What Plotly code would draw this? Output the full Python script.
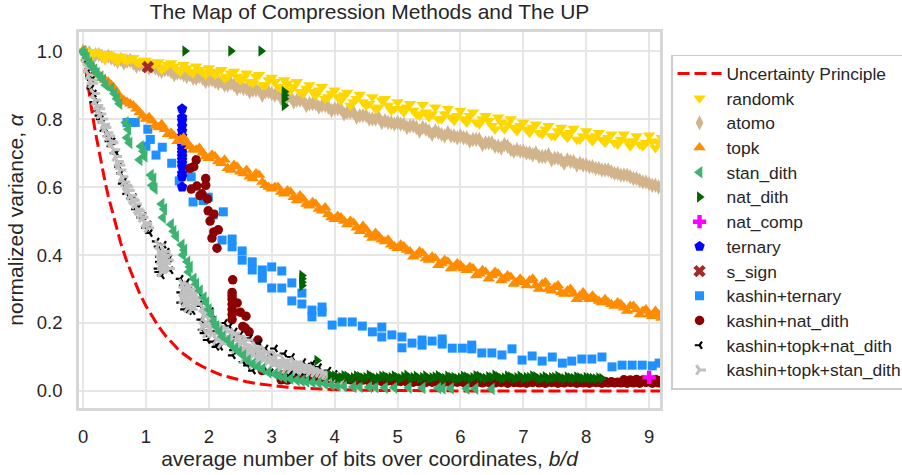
import plotly.graph_objects as go

GRID = [0.0,0.1,0.2,0.3,0.4,0.5,0.6,0.7,0.8,0.9,
        1.0,1.1,1.2,1.3,1.4,1.5,1.6,1.7,1.8,1.9,
        2.0,2.1,2.2,2.3,2.4,2.5,2.6,2.7,2.8,2.9,
        3.0,3.1,3.2,3.3,3.4,3.5,3.6,3.7,3.8,3.9,
        4.0,4.1,4.2,4.3,4.4,4.5,4.6,4.7,4.8,4.9,
        5.0,5.1,5.2,5.3,5.4,5.5,5.6,5.7,5.8,5.9,
        6.0,6.1,6.2,6.3,6.4,6.5,6.6,6.7,6.8,6.9,
        7.0,7.1,7.2,7.3,7.4,7.5,7.6,7.7,7.8,7.9,
        8.0,8.1,8.2,8.3,8.4,8.5,8.6,8.7,8.8,8.9,
        9.0,9.1,9.2]
GRID_B = [0.05,0.15,0.25,0.35,0.45,0.55,0.65,0.75,0.85,0.95,
          1.05,1.15,1.25,1.35,1.45,1.55,1.65,1.75,1.85,1.95,
          2.05,2.15,2.25,2.35,2.45,2.55,2.65,2.75,2.85,2.95,
          3.05,3.15,3.25,3.35,3.45,3.55,3.65,3.75,3.85,3.95,
          4.05,4.15,4.25,4.35,4.45,4.55,4.65,4.75,4.85,4.95,
          5.05,5.15,5.25,5.35,5.45,5.55,5.65,5.75,5.85,5.95,
          6.05,6.15,6.25,6.35,6.45,6.55,6.65,6.75,6.85,6.95,
          7.05,7.15,7.25,7.35,7.45,7.55,7.65,7.75,7.85,7.95,
          8.05,8.15,8.25,8.35,8.45,8.55,8.65,8.75,8.85,8.95,
          9.05,9.15]

up_x = [0,0.05,0.1,0.15,0.2,0.25,0.3,0.35,0.4,0.5,0.6,0.7,0.8,0.9,1.0,1.1,1.2,1.3,1.4,1.5,1.6,1.7,1.8,1.9,2.0,
        2.2,2.4,2.6,2.8,3.0,3.25,3.5,3.75,4.0,4.5,5.0,5.5,6.0,7.0,8.0,9.0,9.3]
up_y = [1.0,0.933,0.871,0.812,0.758,0.707,0.66,0.616,0.574,0.5,0.435,0.379,0.33,0.287,0.25,0.218,0.19,0.165,0.144,
        0.125,0.109,0.095,0.082,0.072,0.0625,0.047,0.036,0.027,0.021,0.016,0.011,0.008,0.0055,0.004,0.002,0.001,0.0005,0.0002,0.0,0.0,0.0,0.0]

randomk_a = [1.0,0.995,0.998,0.985,0.99,0.978,0.985,0.972,0.98,0.965,
             0.972,0.958,0.968,0.952,0.965,0.946,0.96,0.94,0.955,0.938,
             0.95,0.93,0.945,0.925,0.94,0.915,0.935,0.905,0.93,0.9,
             0.922,0.895,0.915,0.885,0.91,0.875,0.9,0.87,0.895,0.865,
             0.885,0.855,0.878,0.85,0.872,0.84,0.865,0.835,0.86,0.825,
             0.85,0.82,0.845,0.815,0.842,0.805,0.835,0.8,0.83,0.795,
             0.825,0.79,0.82,0.785,0.81,0.78,0.805,0.77,0.8,0.765,
             0.79,0.76,0.785,0.755,0.78,0.75,0.775,0.745,0.772,0.74,
             0.765,0.735,0.76,0.73,0.755,0.725,0.755,0.72,0.75,0.72,
             0.752,0.715,0.745]
randomk_b = [0.998,0.99,0.992,0.975,0.985,0.97,0.975,0.975,0.968,0.97,
             0.96,0.965,0.945,0.96,0.955,0.94,0.95,0.935,0.945,0.93,
             0.938,0.94,0.92,0.935,0.925,0.92,0.91,0.925,0.9,0.915,
             0.91,0.89,0.905,0.895,0.88,0.89,0.88,0.885,0.86,0.875,
             0.865,0.87,0.84,0.86,0.85,0.845,0.83,0.855,0.84,0.83,
             0.83,0.835,0.825,0.81,0.82,0.815,0.8,0.815,0.805,0.81,
             0.8,0.81,0.79,0.8,0.795,0.77,0.79,0.785,0.775,0.78,
             0.77,0.775,0.76,0.77,0.75,0.765,0.755,0.76,0.74,0.75,
             0.745,0.75,0.74,0.745,0.73,0.74,0.735,0.735,0.725,0.73,
             0.735,0.73]
atomo_a = [1.0,0.995,0.99,0.985,0.985,0.975,0.975,0.97,0.965,0.96,
           0.955,0.955,0.945,0.945,0.94,0.935,0.93,0.93,0.92,0.92,
           0.915,0.91,0.91,0.9,0.9,0.895,0.89,0.885,0.885,0.88,
           0.875,0.875,0.865,0.865,0.855,0.855,0.845,0.845,0.84,0.835,
           0.83,0.83,0.82,0.82,0.81,0.81,0.8,0.805,0.795,0.79,
           0.79,0.785,0.78,0.775,0.775,0.765,0.765,0.755,0.76,0.75,
           0.75,0.745,0.74,0.74,0.73,0.73,0.72,0.725,0.71,0.71,
           0.705,0.7,0.7,0.69,0.695,0.685,0.68,0.68,0.675,0.67,
           0.665,0.66,0.655,0.65,0.645,0.64,0.635,0.63,0.625,0.615,
           0.61,0.605,0.595]
atomo_b = [0.995,0.985,0.99,0.98,0.98,0.97,0.965,0.972,0.955,0.96,
           0.95,0.95,0.94,0.945,0.93,0.935,0.925,0.92,0.925,0.91,
           0.915,0.905,0.9,0.905,0.89,0.89,0.88,0.885,0.87,0.88,
           0.87,0.86,0.865,0.85,0.855,0.84,0.845,0.835,0.84,0.825,
           0.83,0.815,0.82,0.805,0.81,0.8,0.8,0.79,0.79,0.785,
           0.785,0.775,0.78,0.765,0.77,0.755,0.76,0.75,0.75,0.745,
           0.745,0.735,0.74,0.725,0.73,0.72,0.715,0.72,0.705,0.705,
           0.7,0.695,0.69,0.69,0.68,0.685,0.67,0.675,0.665,0.665,
           0.66,0.655,0.65,0.65,0.64,0.635,0.635,0.625,0.62,0.615,
           0.605,0.6]
topk_a = [1.0,0.965,0.94,0.92,0.91,0.89,0.86,0.85,0.84,0.82,
          0.8,0.795,0.775,0.77,0.76,0.735,0.745,0.72,0.71,0.7,
          0.685,0.69,0.67,0.655,0.665,0.645,0.65,0.625,0.635,0.605,
          0.595,0.6,0.58,0.585,0.56,0.565,0.545,0.55,0.53,0.52,
          0.505,0.51,0.49,0.495,0.47,0.475,0.45,0.455,0.44,0.43,
          0.42,0.425,0.41,0.4,0.405,0.385,0.39,0.375,0.38,0.365,
          0.37,0.355,0.36,0.345,0.35,0.34,0.345,0.33,0.335,0.32,
          0.32,0.325,0.31,0.315,0.3,0.305,0.29,0.295,0.285,0.28,
          0.275,0.28,0.265,0.27,0.255,0.26,0.245,0.25,0.24,0.235,
          0.225,0.235,0.215]
topk_b = [0.98,0.955,0.93,0.915,0.9,0.875,0.855,0.845,0.83,0.81,
          0.805,0.78,0.785,0.755,0.75,0.74,0.73,0.71,0.715,0.69,
          0.695,0.675,0.68,0.65,0.66,0.64,0.63,0.64,0.615,0.6,
          0.6,0.585,0.59,0.57,0.575,0.55,0.555,0.535,0.54,0.51,
          0.515,0.5,0.5,0.48,0.485,0.46,0.465,0.445,0.445,0.425,
          0.43,0.415,0.395,0.41,0.39,0.395,0.37,0.385,0.36,0.375,
          0.36,0.365,0.34,0.355,0.33,0.35,0.325,0.34,0.315,0.33,
          0.31,0.33,0.3,0.32,0.295,0.31,0.285,0.3,0.27,0.29,
          0.27,0.27,0.26,0.26,0.25,0.255,0.235,0.25,0.225,0.24,
          0.22,0.225]

stan_x = [0.0,0.03,0.06,0.1,0.14,0.18,0.22,0.28,0.32,0.36,0.45,0.5,0.54,0.58,0.68,0.72,0.7,0.74,0.92,0.96,0.9,0.98,
          1.08,1.12,1.1,1.14,1.25,1.29,1.27,1.4,1.44,1.48,1.57,1.61,1.59,1.66,1.7,1.68,1.76,1.8,1.86,1.92,1.96,
          2.0,2.04,2.08,2.12,2.17,2.22,2.3,2.36,2.42,2.48,2.55,2.62,2.7,2.78,2.85,2.95,3.05,3.12,3.2,3.3,3.4,3.48,3.55,3.65,3.75,3.85,3.95,4.05,4.15,
          4.3,4.4,4.55,4.65,4.8,4.95,5.18,5.4,5.65,5.72,5.85,6.1,6.24,6.5]
stan_y = [1.0,0.99,0.98,0.965,0.955,0.945,0.935,0.925,0.915,0.9,0.89,0.875,0.86,0.845,0.79,0.77,0.745,0.73,0.72,0.705,
          0.68,0.69,0.635,0.625,0.605,0.595,0.55,0.535,0.51,0.49,0.47,0.455,0.43,0.415,0.4,0.38,0.365,0.35,0.33,0.315,
          0.295,0.275,0.26,0.24,0.225,0.205,0.19,0.175,0.16,0.15,0.135,0.125,0.115,0.105,0.09,0.08,0.072,0.065,0.055,0.05,0.045,0.04,0.036,0.032,
          0.03,0.028,0.026,0.024,0.021,0.018,0.016,0.014,0.012,0.012,0.012,0.011,0.01,0.01,0.01,0.009,0.009,0.008,0.008,0.007,0.007,0.006]

nat_x = [1.62,2.35,2.83,3.2,3.2,3.2,3.2,3.48,3.48,3.48,3.48,3.72,3.93,
         4.0,4.05,4.1,4.15,4.2,4.25,4.3,4.35,4.4,4.45,4.5,4.55,4.6,4.65,4.7,4.75,4.8,4.85,4.9,4.95,5.0,5.05,5.1,5.15,5.2,5.25,5.3,5.35,5.4,5.45,5.5,5.55,5.6,5.65,5.7,5.75,5.8,5.85,5.9,5.95,
         6.0,6.05,6.1,6.15,6.2,6.25,6.3,6.35,6.4,6.45,6.5,6.55,6.6,6.65,6.7,6.75,6.8,6.85,6.9,6.95,7.0,7.05,7.1,7.15,7.2,7.25,7.3,7.35,7.4,7.45,7.5,7.55,7.6,7.65,7.7,7.75,7.8,7.85,7.9,7.95,8.0,8.05,8.1,8.15,8.2,8.25]
nat_y = [1.0,1.0,1.0,0.88,0.87,0.86,0.84,0.34,0.33,0.32,0.31,0.09,0.047,
         0.044,0.039,0.04,0.045,0.043,0.037,0.039,0.044,0.042,0.038,0.04,0.046,0.041,0.037,0.038,0.043,0.043,0.039,0.04,0.044,0.039,0.037,0.042,0.046,0.038,0.04,0.043,0.037,0.04,0.044,0.037,0.039,0.041,0.045,0.039,0.037,0.043,0.04,0.04,0.036,
         0.038,0.043,0.041,0.037,0.039,0.045,0.043,0.038,0.037,0.042,0.04,0.046,0.042,0.037,0.038,0.044,0.041,0.037,0.039,0.043,0.037,0.04,0.04,0.044,0.042,0.036,0.038,0.042,0.036,0.039,0.04,0.043,0.038,0.036,0.041,0.038,0.037,0.041,0.039,0.036,0.04,0.038,0.037,0.035,0.038,0.037]

comp_x = [9.0]
comp_y = [0.04]

ternary_x = [1.575,1.575,1.575,1.575,1.575,1.575,1.575,1.575,1.575,1.575,1.575,1.575,1.575,1.575,1.575,1.575,1.575,1.575]
ternary_y = [0.83,0.805,0.795,0.78,0.765,0.75,0.74,0.73,0.72,0.71,0.7,0.69,0.68,0.67,0.66,0.64,0.63,0.6]

sign_x = [1.03]
sign_y = [0.953]

kt_x = [0.7,0.83,1.03,1.07,1.0,1.26,1.16,1.41,1.72,1.53,1.99,1.75,1.91,2.23,2.07,2.21,2.37,2.37,2.53,2.53,2.69,2.69,
        2.85,2.85,3.0,3.16,3.32,3.0,3.16,3.48,3.32,3.48,3.64,3.64,3.8,3.8,3.96,4.12,4.28,4.44,4.6,4.75,4.75,4.91,
        5.07,5.07,5.23,5.39,5.39,5.55,5.71,5.71,5.87,6.03,6.18,6.18,6.34,6.5,6.66,6.82,6.98,7.14,7.3,7.46,7.62,7.77,
        7.93,8.09,8.25,8.41,8.57,8.73,8.89,9.05,9.16]
kt_y = [0.79,0.79,0.77,0.74,0.72,0.717,0.694,0.67,0.63,0.618,0.57,0.556,0.56,0.527,0.518,0.444,0.447,0.424,0.412,0.385,
        0.38,0.356,0.356,0.332,0.365,0.353,0.318,0.303,0.303,0.288,0.265,0.256,0.238,0.218,0.247,0.232,0.194,0.203,0.203,
        0.191,0.174,0.188,0.159,0.165,0.159,0.127,0.141,0.15,0.135,0.147,0.153,0.138,0.126,0.126,0.135,0.124,0.112,0.112,
        0.106,0.124,0.091,0.103,0.088,0.1,0.082,0.088,0.094,0.094,0.1,0.071,0.076,0.076,0.076,0.074,0.082]

knd_x = [1.8,1.76,1.7,1.95,1.95,1.81,1.72,1.89,1.86,1.98,1.99,2.08,2.02,2.15,2.08,2.05,2.13,
         2.38,2.37,2.37,2.37,2.37,2.37,2.37,2.37,2.45,2.5,2.59,2.54,2.58,2.64,2.78,2.85,3.0,3.2,
         3.1,3.2,3.3,3.4,3.5,3.6,3.7,3.8,3.9,4.0,4.1,4.2,4.3,4.4,4.5,4.6,4.7,4.8,4.9,5.0,5.1,5.2,5.3,5.4,5.5,5.6,5.7,5.8,5.9,
         6.0,6.1,6.2,6.3,6.4,6.5,6.6,6.7,6.8,6.9,7.0,7.1,7.2,7.3,7.4,7.5,7.6,7.7,7.8,7.9,8.0,8.1,8.2,8.3,8.4,8.5,8.6,8.7,8.8,8.9,9.0,9.1,9.2,
         3.15,3.25,3.35,3.45,3.55,3.65,3.75,3.85,3.95,4.05,4.15,4.25,4.35,4.45,4.55,4.65,4.75,4.85,4.95,5.05,5.15,5.25,5.35,5.45,5.55,5.65,5.75,5.85,5.95,
         6.05,6.15,6.25,6.35,6.45,6.55,6.65,6.75,6.85,6.95,7.05,7.15,7.25,7.35,7.45,7.55,7.65,7.75,7.85,7.95,8.05,8.15,8.25,8.35,8.45,8.55,8.65,8.75,8.85,8.95,9.05,9.15]
knd_y = [0.68,0.66,0.655,0.625,0.605,0.603,0.594,0.58,0.575,0.565,0.53,0.52,0.5,0.474,0.468,0.45,0.42,
         0.327,0.29,0.28,0.27,0.255,0.24,0.225,0.21,0.259,0.232,0.22,0.19,0.185,0.174,0.15,0.06,0.1,0.04,
         0.05,0.048,0.047,0.045,0.044,0.044,0.043,0.042,0.04,0.04,0.038,0.037,0.036,0.036,0.034,0.035,0.033,0.032,0.033,0.031,0.032,0.03,0.031,
         0.03,0.03,0.029,0.03,0.028,0.029,0.03,0.028,0.029,0.027,0.029,0.028,0.027,0.029,0.028,0.026,0.028,0.027,0.029,0.026,0.028,0.027,0.026,0.028,
         0.027,0.026,0.028,0.027,0.026,0.028,0.027,0.026,0.033,0.032,0.034,0.032,0.033,0.034,0.032,0.033,0.032,
         0.042,0.04,0.04,0.039,0.038,0.037,0.035,0.035,0.034,0.033,0.031,0.032,0.03,0.03,0.028,0.03,0.027,0.028,0.027,0.026,0.027,0.025,0.026,0.025,0.026,0.024,0.026,0.025,0.024,
         0.026,0.024,0.025,0.024,0.025,0.023,0.025,0.024,0.023,0.025,0.024,0.023,0.025,0.023,0.024,0.025,0.023,0.024,0.023,0.025,0.023,0.024,0.024,0.024,0.023,0.024,0.023,0.025,0.023,0.024,0.023,0.024]

ktn_x = [0.05,0.08,0.11,0.14,0.13,0.17,0.18,0.21,0.24,0.26,0.28,0.31,0.34,0.36,0.39,0.42,0.45,0.47,0.5,0.53,0.57,0.6,0.63,0.66,0.7,0.76,0.81,0.84,0.88,0.92,0.96,1.0,1.04,1.06,
         1.17,1.2,1.22,1.2,1.21,1.25,1.33,1.37,1.39,1.28,1.22,
         1.55,1.56,1.56,1.6,1.65,1.7,1.78,1.84,1.85,1.62,1.68,1.74,
         1.87,1.88,1.9,1.93,1.98,2.03,2.06,1.95,
         2.06,2.08,2.08,2.15,2.25,2.33,2.41,2.18,2.12,
         2.42,2.4,2.38,2.5,2.55,2.65,2.62,2.7,2.8,2.85,2.72,2.9,2.98,3.05,3.0,3.12,3.2,3.25,3.32,3.28,3.4,3.5,3.55,3.65,3.3,3.6,3.75,3.9,4.0]
ktn_y = [0.97,0.94,0.925,0.915,0.89,0.875,0.85,0.845,0.825,0.81,0.8,0.79,0.765,0.77,0.75,0.735,0.72,0.735,0.7,0.7,0.66,0.64,0.61,0.62,0.58,0.565,0.57,0.535,0.54,0.51,0.515,0.48,0.49,0.465,
         0.44,0.425,0.395,0.36,0.35,0.34,0.41,0.39,0.355,0.43,0.38,
         0.33,0.29,0.26,0.31,0.32,0.3,0.3,0.29,0.255,0.24,0.235,0.235,
         0.25,0.21,0.18,0.17,0.15,0.235,0.195,0.24,
         0.21,0.175,0.145,0.135,0.2,0.19,0.175,0.13,0.13,
         0.16,0.12,0.105,0.165,0.085,0.155,0.075,0.06,0.14,0.065,0.12,0.125,0.055,0.125,0.105,0.05,0.11,0.045,0.1,0.06,0.05,0.085,0.05,0.08,0.05,0.075,0.07,0.06,0.05]

ktsd_x = [0.03,0.06,0.09,0.12,0.14,0.17,0.19,0.22,0.25,0.27,0.3,0.33,0.35,0.38,0.41,0.44,0.46,0.49,0.52,0.55,0.57,0.59,0.62,0.65,0.68,0.7,0.72,0.75,0.78,0.8,0.83,0.86,0.88,0.91,0.94,0.98,1.0,1.03,
          1.2,1.22,1.24,1.22,1.25,1.28,1.3,1.32,1.27,1.34,1.36,1.24,1.29,1.26,1.31,
          1.58,1.6,1.58,1.62,1.65,1.68,1.7,1.66,1.74,1.76,1.8,1.72,1.82,1.62,1.64,1.7,1.76,1.6,1.68,1.78,
          1.9,1.93,1.95,1.9,1.98,2.0,1.96,2.03,2.05,1.94,2.01,
          2.1,2.13,2.17,2.12,2.22,2.25,2.3,2.2,2.35,2.4,2.16,2.28,2.33,
          2.45,2.5,2.55,2.42,2.6,2.65,2.7,2.55,2.75,2.8,2.85,2.7,2.9,2.95,3.0,3.05,3.1,3.15,3.2,3.25,3.3,3.35,3.4,3.45,3.5,3.55,3.6,3.65,3.7,3.8,3.9,4.0,
          2.48,2.52,2.58,2.63,2.68,2.72,2.78,2.83,2.88,2.92,2.98,3.02,3.08,3.12,3.18,3.22,3.28,3.32,3.38,3.42,3.48,3.52,3.58,3.62,3.68,3.75,3.85,3.95,4.05,4.15]
ktsd_y = [0.98,0.95,0.93,0.915,0.905,0.875,0.855,0.84,0.83,0.815,0.8,0.785,0.775,0.76,0.75,0.735,0.73,0.71,0.69,0.675,0.665,0.65,0.63,0.615,0.605,0.6,0.59,0.575,0.565,0.56,0.55,0.535,0.53,0.52,0.51,0.495,0.49,0.48,
          0.43,0.41,0.4,0.385,0.37,0.395,0.375,0.36,0.355,0.385,0.36,0.35,0.41,0.38,0.4,
          0.315,0.295,0.27,0.26,0.31,0.285,0.265,0.245,0.29,0.26,0.255,0.24,0.275,0.3,0.28,0.3,0.275,0.28,0.26,0.27,
          0.245,0.22,0.2,0.19,0.235,0.21,0.17,0.19,0.17,0.23,0.185,
          0.2,0.175,0.165,0.15,0.185,0.16,0.15,0.14,0.165,0.17,0.19,0.175,0.15,
          0.16,0.14,0.12,0.125,0.15,0.125,0.105,0.095,0.13,0.105,0.09,0.08,0.115,0.09,0.075,0.105,0.085,0.07,0.09,0.075,0.065,0.085,0.07,0.065,0.075,0.065,0.055,0.065,0.06,0.05,0.045,0.04,
          0.15,0.125,0.135,0.105,0.115,0.12,0.09,0.115,0.1,0.085,0.1,0.08,0.09,0.075,0.08,0.065,0.08,0.07,0.06,0.075,0.06,0.07,0.065,0.06,0.055,0.055,0.048,0.044,0.04,0.038]

x_ticks = [0,1,2,3,4,5,6,7,8,9]
y_ticks = [0.0,0.2,0.4,0.6,0.8,1.0]
y_labels = ["0.0","0.2","0.4","0.6","0.8","1.0"]

# (name, x, y, symbol, colour, size, legend position) in drawing order
series = [
    ("atomo", GRID + GRID_B, atomo_a + atomo_b, "diamond-tall", "#D2B48C", 11, 3),
    ("randomk", GRID + GRID_B, randomk_a + randomk_b, "triangle-down", "#FFD700", 11, 2),
    ("kashin+ternary", kt_x, kt_y, "square", "#1E90FF", 9, 10),
    ("ternary", ternary_x, ternary_y, "pentagon", "#0000FF", 11, 8),
    ("kashin+nat_dith", knd_x, knd_y, "circle", "#8B0000", 9.5, 11),
    ("topk", GRID + GRID_B, topk_a + topk_b, "triangle-up", "#FF8C00", 11, 4),
    ("kashin+topk+nat_dith", ktn_x, ktn_y, "y-left", "#000000", 6, 12),
    ("kashin+topk+stan_dith", ktsd_x, ktsd_y, "y-right", "#C0C0C0", 8, 13),
    ("stan_dith", stan_x, stan_y, "triangle-left", "#3CB371", 11, 5),
    ("nat_dith", nat_x, nat_y, "triangle-right", "#006400", 10, 6),
    ("s_sign", sign_x, sign_y, "x", "#A52A2A", 11, 9),
    ("nat_comp", comp_x, comp_y, "cross", "#FF00FF", 11, 7),
]

def legend_label(text):
    return f"<span style='font-size:17.4px'>{text}</span>"

fig = go.Figure()
fig.add_trace(go.Scatter(x=up_x, y=up_y, mode="lines", name=legend_label("Uncertainty Principle"),
                         line=dict(color="#FF0000", width=3, dash="12px,5px"), legendrank=1))
for name, xs, ys, sym, col, size, rank in series:
    open_mark = sym.startswith("y-")
    fig.add_trace(go.Scatter(
        x=xs, y=ys, mode="markers", name=legend_label(name), legendrank=rank,
        marker=dict(symbol=sym, color=col, size=size,
                    line=dict(color=col, width=3 if name.endswith("stan_dith") and open_mark else (2.2 if open_mark else 0)))))

INK = "#262626"
fig.update_layout(
    width=902, height=475,
    margin=dict(l=79, r=242, t=32, b=67, autoexpand=False),
    paper_bgcolor="white", plot_bgcolor="white",
    font=dict(family="Liberation Sans, Arial, sans-serif", size=16, color=INK),
    title=dict(text="The Map of Compression Methods and The UP", x=0.5, xref="paper",
               xanchor="center", y=0.975, yanchor="middle", font=dict(size=21, color=INK)),
    legend=dict(x=1.019, xanchor="left", y=0.94, yanchor="top", bgcolor="white",
                bordercolor="#cccccc", borderwidth=1.5, font=dict(size=16.7, color=INK),
                itemwidth=44, itemsizing="trace", traceorder="normal",
                entrywidth=170, entrywidthmode="pixels"),
    xaxis=dict(range=[-0.064, 9.173], tickmode="array", tickvals=x_ticks, showgrid=True,
               gridcolor="#e6e6e6", gridwidth=1.7, zeroline=False, showline=True, mirror=True,
               linecolor="#d6d6d6", linewidth=2.5, ticks="", ticklabelstandoff=10,
               tickfont=dict(size=18.5, color=INK),
               title=dict(text="average number of bits over coordinates, <i>b/d</i>",
                          font=dict(size=21, color=INK), standoff=6)),
    yaxis=dict(range=[-0.05, 1.056], tickmode="array", tickvals=y_ticks, ticktext=y_labels,
               showgrid=True, gridcolor="#e6e6e6", gridwidth=1.7, zeroline=False, showline=True,
               mirror=True, linecolor="#d6d6d6", linewidth=2.5, ticks="", ticklabelstandoff=10,
               tickfont=dict(size=18.5, color=INK),
               title=dict(text="normalized variance, <i>α</i>", font=dict(size=21, color=INK), standoff=8)),
)
fig.write_html("out.html", config={"displayModeBar": False},
               post_script="document.body.style.margin='0';")
